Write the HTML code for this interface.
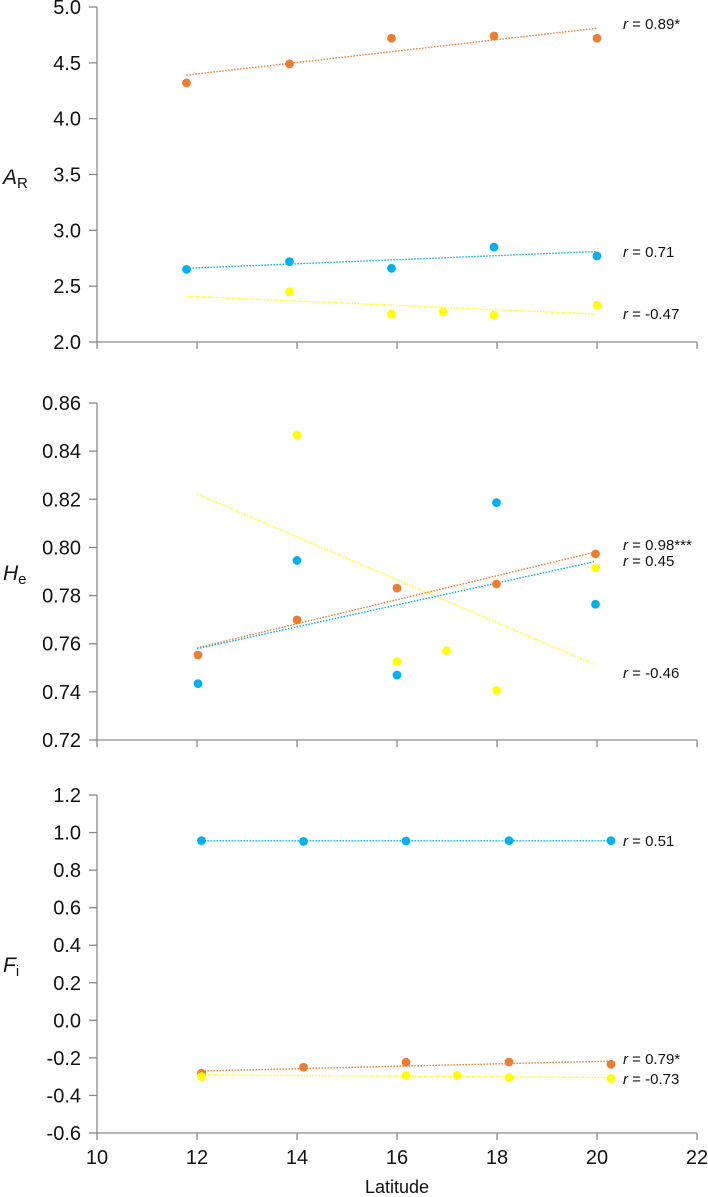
<!DOCTYPE html>
<html><head><meta charset="utf-8"><style>
html,body{margin:0;padding:0;background:#fff;}
svg{display:block;font-family:"Liberation Sans",Arial,sans-serif;}
</style></head><body>
<svg id="chart" width="708" height="1197" viewBox="0 0 708 1197" xmlns="http://www.w3.org/2000/svg"></svg>
<script>
// ---- data ----
const xTicks = [10,12,14,16,18,20,22];
const p1Ticks = ["2.0","2.5","3.0","3.5","4.0","4.5","5.0"];
const p2Ticks = ["0.72","0.74","0.76","0.78","0.80","0.82","0.84","0.86"];
const p3Ticks = ["-0.6","-0.4","-0.2","0.0","0.2","0.4","0.6","0.8","1.0","1.2"];

const arOrangeX = [11.79,13.85,15.89,17.94,20.0];
const arOrangeY = [4.32,4.49,4.72,4.74,4.72];
const arBlueX = [11.79,13.85,15.89,17.94,20.0];
const arBlueY = [2.65,2.72,2.66,2.85,2.77];
const arYellowX = [13.85,15.89,16.92,17.94,20.0];
const arYellowY = [2.45,2.25,2.27,2.24,2.33];
const arTrendX = [11.79,20.0];
const arOrangeTrend = [4.39,4.81];
const arBlueTrend = [2.66,2.81];
const arYellowTrend = [2.41,2.25];

const heX = [12.02,14.0,16.0,17.99,19.97];
const heOrangeY = [0.7553,0.7699,0.7831,0.7848,0.7973];
const heBlueY = [0.7434,0.7946,0.7470,0.8186,0.7764];
const heYellowX = [14.0,16.0,16.99,17.99,19.97];
const heYellowY = [0.8467,0.7526,0.7571,0.7406,0.7915];
const heTrendX = [12.0,19.95];
const heOrangeTrend = [0.7583,0.7980];
const heBlueTrend = [0.7579,0.7941];
const heYellowTrend = [0.8222,0.7514];

const fiX = [12.09,14.13,16.18,18.24,20.28];
const fiBlueY = [0.957,0.953,0.955,0.957,0.957];
const fiOrangeY = [-0.282,-0.25,-0.223,-0.222,-0.234];
const fiYellowX = [12.09,16.18,17.2,18.24,20.28];
const fiYellowY = [-0.30,-0.294,-0.293,-0.305,-0.31];
const fiTrendX = [12.09,20.28];
const fiBlueTrend = [0.956,0.956];
const fiOrangeTrend = [-0.27,-0.217];
const fiYellowTrend = [-0.29,-0.305];

const rLabels1 = ["0.89*","0.71","-0.47"];
const rLabels2 = ["0.98***","0.45","-0.46"];
const rLabels3 = ["0.51","0.79*","-0.73"];

// ---- drawing ----
const NS = "http://www.w3.org/2000/svg";
const svg = document.getElementById('chart');
const ORANGE="#ED7D31", BLUE="#00B0F0", YELLOW="#FFFF00", AX="#8a8a8a";
const X0=97, X1=697;
function sx(v){ return X0 + (v-10)/(22-10)*(X1-X0); }
function mk(tag, attrs, parent){ const e=document.createElementNS(NS,tag); for(const k in attrs) e.setAttribute(k,attrs[k]); (parent||svg).appendChild(e); return e; }

const panels = [
  {top:7,bot:342,min:2,max:5,ticks:p1Ticks,name:"ar"},
  {top:403,bot:740,min:0.72,max:0.86,ticks:p2Ticks,name:"he"},
  {top:795,bot:1133,min:-0.6,max:1.2,ticks:p3Ticks,name:"fi"}
];
function sy(p,v){ return p.bot - (v-p.min)/(p.max-p.min)*(p.bot-p.top); }

panels.forEach(function(p,i){
  const g = mk('g',{});
  
  
  const ya = mk('line',{x1:X0,y1:p.top,x2:X0,y2:p.bot,stroke:AX,'stroke-width':1.3},g);
  
  
  const xa = mk('line',{x1:X0,y1:p.bot,x2:X1,y2:p.bot,stroke:AX,'stroke-width':1.3},g);
  
  
  p.ticks.forEach(function(t){
    const v=parseFloat(t), y=sy(p,v);
    const tl = mk('line',{x1:X0-8,y1:y,x2:X0,y2:y,stroke:AX,'stroke-width':1.3},g);
    
    
    const tx = mk('text',{x:X0-16,y:y+7,'text-anchor':'end','font-size':20,fill:'#111'},g);
    
    
    tx.textContent=t;
  });
  xTicks.forEach(function(t){
    const x=sx(t);
    const tl = mk('line',{x1:x,y1:p.bot,x2:x,y2:p.bot+7,stroke:AX,'stroke-width':1.3},g);
    
    
    if(i===2){
      const tx = mk('text',{x:x,y:p.bot+31,'text-anchor':'middle','font-size':20,fill:'#111'},g);
      
      
      tx.textContent=String(t);
    }
  });
});

function trend(p,xs,ys,color,name){
  const l = mk('line',{x1:sx(xs[0]),y1:sy(p,ys[0]),x2:sx(xs[1]),y2:sy(p,ys[1]),stroke:color,'stroke-width':1.4,'stroke-dasharray':'1.5,1.5'});
  
  
}
function dots(p,xs,ys,color,name){
  xs.forEach(function(x,k){
    const c = mk('circle',{cx:sx(x),cy:sy(p,ys[k]),r:4.4,fill:color});
    
    
  });
}
function rlabel(x,y,val){
  const t = mk('text',{x:x,y:y,'font-size':15,fill:'#111'});
  
  
  const i = mk('tspan',{'font-style':'italic'},t); i.textContent='r';
  const r = mk('tspan',{},t); r.textContent=' = '+val;
}

const P1=panels[0],P2=panels[1],P3=panels[2];
trend(P1,arTrendX,arOrangeTrend,ORANGE,'ar-orange-trend');
trend(P1,arTrendX,arBlueTrend,BLUE,'ar-blue-trend');
trend(P1,arTrendX,arYellowTrend,YELLOW,'ar-yellow-trend');
dots(P1,arOrangeX,arOrangeY,ORANGE,'ar-orange-point');
dots(P1,arBlueX,arBlueY,BLUE,'ar-blue-point');
dots(P1,arYellowX,arYellowY,YELLOW,'ar-yellow-point');

trend(P2,heTrendX,heYellowTrend,YELLOW,'he-yellow-trend');
trend(P2,heTrendX,heOrangeTrend,ORANGE,'he-orange-trend');
trend(P2,heTrendX,heBlueTrend,BLUE,'he-blue-trend');
dots(P2,heYellowX,heYellowY,YELLOW,'he-yellow-point');
dots(P2,heX,heBlueY,BLUE,'he-blue-point');
dots(P2,heX,heOrangeY,ORANGE,'he-orange-point');

trend(P3,fiTrendX,fiBlueTrend,BLUE,'fi-blue-trend');
trend(P3,fiTrendX,fiOrangeTrend,ORANGE,'fi-orange-trend');
trend(P3,fiTrendX,fiYellowTrend,YELLOW,'fi-yellow-trend');
dots(P3,fiX,fiBlueY,BLUE,'fi-blue-point');
dots(P3,fiX,fiOrangeY,ORANGE,'fi-orange-point');
dots(P3,fiYellowX,fiYellowY,YELLOW,'fi-yellow-point');

rlabel(623,29,rLabels1[0]); rlabel(623,257,rLabels1[1]); rlabel(623,319,rLabels1[2]);
rlabel(623,550,rLabels2[0]); rlabel(623,566,rLabels2[1]); rlabel(623,678,rLabels2[2]);
rlabel(623,846,rLabels3[0]); rlabel(623,1064,rLabels3[1]); rlabel(623,1084,rLabels3[2]);

function ytitle(y,main,sub,name){
  const t = mk('text',{x:3,y:y,'font-size':21,fill:'#111'});
  
  
  const a = mk('tspan',{'font-style':'italic'},t); a.textContent=main;
  const b = mk('tspan',{'font-size':15,dy:4},t); b.textContent=sub;
}
ytitle(184,'A','R','ar-y-axis-title');
ytitle(580,'H','e','he-y-axis-title');
ytitle(972,'F','i','fi-y-axis-title');

const xt = mk('text',{x:397,y:1193,'text-anchor':'middle','font-size':18,fill:'#111'});


xt.textContent='Latitude';
</script>
</body></html>
